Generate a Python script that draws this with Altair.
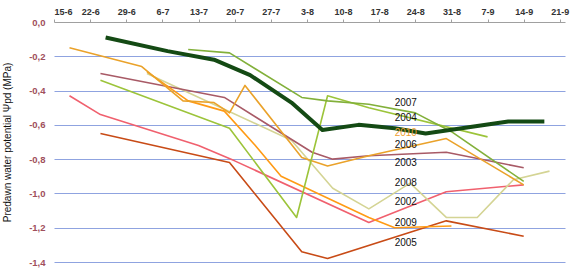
import altair as alt
import pandas as pd

# ---- data (dates as day-month, values in MPa) ----
tick_labels = ["15-6", "22-6", "29-6", "6-7", "13-7", "20-7", "27-7", "3-8",
               "10-8", "17-8", "24-8", "31-8", "7-9", "14-9", "21-9"]

s2007_d = ["25-6", "7-7", "16-7", "23-7", "31-7", "6-8", "13-8", "20-8", "26-8", "2-9", "11-9", "18-9"]
s2007_v = [-0.09, -0.17, -0.22, -0.31, -0.47, -0.63, -0.60, -0.62, -0.65, -0.62, -0.58, -0.58]

s2004_d = ["11-7", "19-7", "2-8", "7-8", "15-8", "24-8", "31-8", "14-9"]
s2004_v = [-0.16, -0.18, -0.44, -0.46, -0.48, -0.53, -0.64, -0.93]

sgreen_d = ["24-6", "19-7", "1-8", "7-8", "15-8", "7-9"]
sgreen_v = [-0.34, -0.62, -1.14, -0.43, -0.50, -0.67]

s2006_d = ["18-6", "2-7", "10-7", "16-7", "19-7", "22-7", "2-8", "7-8", "15-8", "30-8", "14-9"]
s2006_v = [-0.15, -0.26, -0.46, -0.47, -0.53, -0.37, -0.79, -0.84, -0.78, -0.68, -0.95]

s2009_d = ["3-7", "11-7", "18-7", "24-7", "29-7", "15-8", "20-8", "31-8"]
s2009_v = [-0.29, -0.46, -0.52, -0.72, -0.90, -1.14, -1.20, -1.19]

s2003_d = ["24-6", "18-7", "4-8", "8-8", "15-8", "30-8", "14-9"]
s2003_v = [-0.30, -0.44, -0.76, -0.80, -0.78, -0.76, -0.85]

s2008_d = ["3-7", "31-7", "8-8", "15-8", "23-8", "30-8", "5-9", "12-9", "19-9"]
s2008_v = [-0.30, -0.69, -0.97, -1.09, -0.94, -1.14, -1.14, -0.92, -0.87]

s2002_d = ["18-6", "24-6", "13-7", "20-7", "15-8", "30-8", "14-9"]
s2002_v = [-0.43, -0.54, -0.72, -0.81, -1.17, -0.99, -0.95]

s2005_d = ["24-6", "19-7", "2-8", "7-8", "30-8", "14-9"]
s2005_v = [-0.65, -0.82, -1.34, -1.38, -1.16, -1.25]

label_years = ["2007", "2004", "2010", "2006", "2003", "2008", "2002", "2009", "2005"]
label_values = [-0.47, -0.56, -0.65, -0.72, -0.82, -0.94, -1.05, -1.17, -1.29]
label_colors = ["#111111", "#111111", "#f0a030", "#111111", "#111111",
                "#111111", "#111111", "#111111", "#111111"]
label_date = "20-8"

series = [
    ("2005", s2005_d, s2005_v, "#c84b16", 1.6),
    ("2002", s2002_d, s2002_v, "#f0606e", 1.6),
    ("2008", s2008_d, s2008_v, "#d4d494", 1.6),
    ("2003", s2003_d, s2003_v, "#a85a66", 1.6),
    ("2009", s2009_d, s2009_v, "#ff9a14", 1.6),
    ("2006", s2006_d, s2006_v, "#eaa22a", 1.6),
    ("other", sgreen_d, sgreen_v, "#9cc43a", 1.6),
    ("2004", s2004_d, s2004_v, "#82b03a", 1.6),
    ("2007", s2007_d, s2007_v, "#144a14", 4.0),
]

start = pd.Timestamp("2000-06-15")


def to_day(dm):
    d, m = dm.split("-")
    return (pd.Timestamp(year=2000, month=int(m), day=int(d)) - start).days


rows = []
for name, ds, vs, _, _ in series:
    for dm, v in zip(ds, vs):
        rows.append({"series": name, "day": to_day(dm), "value": v})
df = pd.DataFrame(rows)

lab_df = pd.DataFrame({"year": label_years, "value": label_values,
                       "color": label_colors,
                       "day": [to_day(label_date)] * len(label_years)})

tick_days = [i * 7 for i in range(len(tick_labels))]
label_expr = "[" + ",".join("'%s'" % t for t in tick_labels) + "][round(datum.value/7)]"

x_scale = alt.Scale(domain=[0, 99], nice=False, zero=False)
y_scale = alt.Scale(domain=[-1.4, 0], nice=False)

x_axis = alt.Axis(orient="top", values=tick_days, labelExpr=label_expr, title=None,
                  grid=False, domainColor="#a0a0a0", tickColor="#a0a0a0", tickSize=3,
                  labelFont="Liberation Sans", labelFontWeight="bold", labelFontSize=9,
                  labelColor="#333333", labelPadding=3)

y_axis = alt.Axis(values=[0, -0.2, -0.4, -0.6, -0.8, -1.0, -1.2, -1.4],
                  labelExpr="(datum.value < 0 ? '-' : '') + replace(format(abs(datum.value), '.1f'), '.', ',')",
                  grid=True,
                  gridColor={"condition": {"test": "datum.value === 0", "value": "transparent"},
                             "value": "#8fa3e0"},
                  gridWidth=1, domain=False, ticks=False,
                  labelFont="Liberation Sans", labelFontWeight="bold", labelFontSize=9.5,
                  labelColor="#a04f5c", labelPadding=9,
                  title="Predawn water potential Ψpd (MPa)",
                  titleFont="Liberation Sans", titleFontSize=10, titleFontWeight="normal",
                  titleColor="#111111", titleX=-47, titleY=120, titleAngle=270,
                  titleAlign="center", titleBaseline="middle")

X = alt.X("day:Q", scale=x_scale, axis=x_axis)
Y = alt.Y("value:Q", scale=y_scale, axis=y_axis)

layers = []
for name, _, _, color, width in series:
    layers.append(
        alt.Chart(df).transform_filter(alt.datum.series == name)
        .mark_line(color=color, strokeWidth=width, strokeJoin="round")
        .encode(x=X, y=Y)
    )

labels = alt.Chart(lab_df).mark_text(align="left", baseline="middle",
                                     font="Liberation Sans", fontSize=10).encode(
    x=X, y=Y,
    text="year:N",
    color=alt.Color("color:N", scale=None),
)

chart = alt.layer(*layers, labels).properties(
    width=511, height=240,
    autosize=alt.AutoSizeParams(type="none"),
    padding={"left": 54, "top": 22, "right": 8, "bottom": 11},
    background="white",
).configure_view(strokeWidth=0)

chart.save("out.html", embed_options={"renderer": "svg", "actions": False})
